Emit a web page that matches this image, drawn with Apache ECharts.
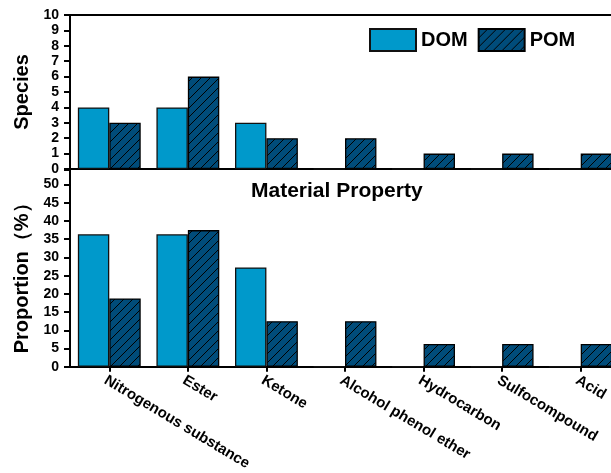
<!DOCTYPE html>
<html>
<head>
<meta charset="utf-8">
<script src="https://cdn.jsdelivr.net/npm/echarts@6/dist/echarts.min.js"></script>
<style>
  html, body { margin: 0; padding: 0; background: #fff; overflow: hidden; }
  #chart { width: 640px; height: 473px; }
</style>
</head>
<body>
<div id="chart"></div>
<script>
// Compound classes and counts / shares for dissolved vs particulate organic matter
const categories = ['Nitrogenous substance', 'Ester', 'Ketone', 'Alcohol phenol ether', 'Hydrocarbon', 'Sulfocompound', 'Acid'];
const speciesDOM = [4, 4, 3, 0, 0, 0, 0];
const speciesPOM = [3, 6, 2, 2, 1, 1, 1];
const proportionDOM = [36.36, 36.36, 27.27, 0, 0, 0, 0];
const proportionPOM = [18.75, 37.5, 12.5, 12.5, 6.25, 6.25, 6.25];
const seriesNames = ['DOM', 'POM'];

const FONT = 'Arial, "Liberation Sans", sans-serif';
const DOM_COLOR = '#0099CB';
const POM_BASE = '#004C7A';

// Diagonal hatch fill for POM bars
function hatchPattern() {
  const s = 9;
  const c = document.createElement('canvas');
  c.width = s; c.height = s;
  const g = c.getContext('2d');
  g.fillStyle = POM_BASE;
  g.fillRect(0, 0, s, s);
  g.strokeStyle = '#000';
  g.lineWidth = 1;
  g.beginPath();
  g.moveTo(-1, s + 1); g.lineTo(s + 1, -1);
  g.moveTo(-2, 2); g.lineTo(2, -2);
  g.moveTo(s - 2, s + 2); g.lineTo(s + 2, s - 2);
  g.stroke();
  return c;
}
const POM_FILL = { image: hatchPattern(), repeat: 'repeat' };

const chart = echarts.init(document.getElementById('chart'), null, { renderer: 'canvas' });

const axisLine = { show: true, lineStyle: { color: '#000', width: 2 } };
const yLabel = { color: '#000', fontWeight: 'bold', fontSize: 14, fontFamily: FONT, margin: 11 };
const yName = { color: '#000', fontWeight: 'bold', fontSize: 20, fontFamily: FONT };

const barCommon = { type: 'bar', barGap: '0%', barCategoryGap: '20%' };

chart.setOption({
  animation: false,
  backgroundColor: '#fff',
  textStyle: { fontFamily: FONT },
  title: {
    text: 'Material Property',
    left: 246, top: 176,
    textStyle: { color: '#000', fontWeight: 'bold', fontSize: 21, fontFamily: FONT }
  },
  legend: {
    data: seriesNames,
    left: 364, top: 23,
    icon: 'rect',
    itemWidth: 46, itemHeight: 22, itemGap: 10,
    textStyle: { color: '#000', fontWeight: 'bold', fontSize: 20, fontFamily: FONT }
  },
  grid: [
    { left: 70, top: 15, width: 550, height: 154, show: true, borderColor: '#000', borderWidth: 2, backgroundColor: 'transparent' },
    { left: 70, top: 170, width: 550, height: 198 }
  ],
  xAxis: [
    {
      type: 'category', gridIndex: 0, data: categories,
      axisLine: axisLine, axisTick: { show: false }, axisLabel: { show: false }
    },
    {
      type: 'category', gridIndex: 1, data: categories,
      axisLine: axisLine,
      axisTick: { show: true, alignWithLabel: true, length: 5, lineStyle: { color: '#000', width: 2 } },
      axisLabel: { color: '#000', fontWeight: 'bold', fontSize: 15, fontFamily: FONT, rotate: -31, margin: 6, verticalAlign: 'top', interval: 0 }
    }
  ],
  yAxis: [
    {
      type: 'value', gridIndex: 0, min: 0, max: 10, interval: 1,
      name: 'Species', nameLocation: 'middle', nameGap: 35, nameTextStyle: yName,
      axisLine: axisLine,
      axisTick: { show: true, length: 6, lineStyle: { color: '#000', width: 2 } },
      axisLabel: yLabel,
      splitLine: { show: false }
    },
    {
      type: 'value', gridIndex: 1, min: 0, max: 54, interval: 5,
      name: 'Proportion（%）', nameLocation: 'middle', nameGap: 34,
      nameTextStyle: Object.assign({}, yName, { padding: [0, 10, 0, 0] }),
      axisLine: axisLine,
      axisTick: { show: true, length: 6, lineStyle: { color: '#000', width: 2 } },
      axisLabel: Object.assign({}, yLabel, { formatter: v => (v % 5 === 0 ? String(v) : '') }),
      splitLine: { show: false }
    }
  ],
  series: [
    Object.assign({}, barCommon, {
      name: 'DOM', xAxisIndex: 0, yAxisIndex: 0, data: speciesDOM,
      itemStyle: { color: DOM_COLOR, borderColor: '#111', borderWidth: 1.3 }
    }),
    Object.assign({}, barCommon, {
      name: 'POM', xAxisIndex: 0, yAxisIndex: 0, data: speciesPOM,
      itemStyle: { color: POM_FILL, borderColor: '#000', borderWidth: 1.3 }
    }),
    Object.assign({}, barCommon, {
      name: 'DOM', xAxisIndex: 1, yAxisIndex: 1, data: proportionDOM,
      itemStyle: { color: DOM_COLOR, borderColor: '#111', borderWidth: 1.3 }
    }),
    Object.assign({}, barCommon, {
      name: 'POM', xAxisIndex: 1, yAxisIndex: 1, data: proportionPOM,
      itemStyle: { color: POM_FILL, borderColor: '#000', borderWidth: 1.3 }
    })
  ]
});
</script>
</body>
</html>
